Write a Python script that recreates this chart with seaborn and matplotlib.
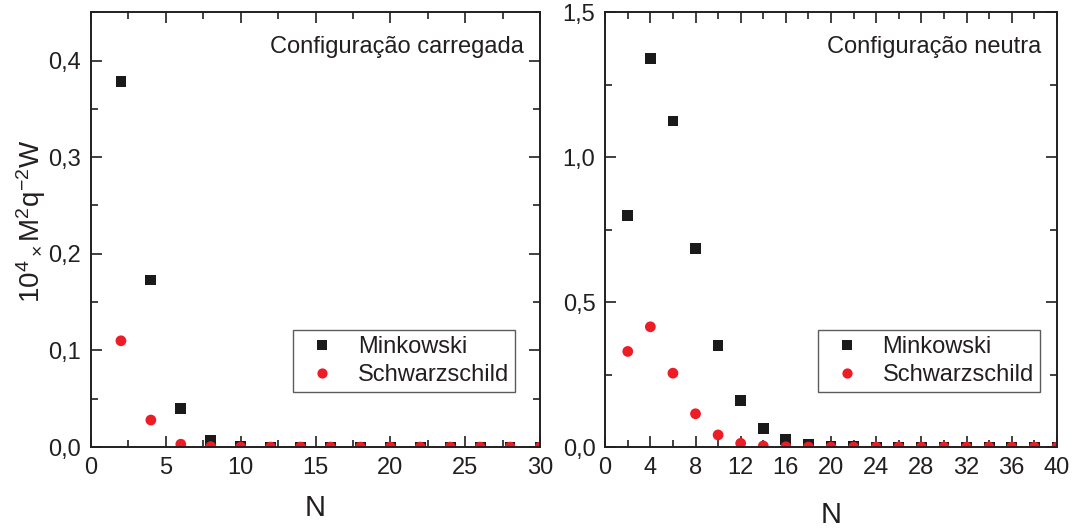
import numpy as np
import pandas as pd
import matplotlib
matplotlib.use("Agg")
import matplotlib.pyplot as plt
from matplotlib.ticker import MultipleLocator, FuncFormatter
import seaborn as sns

sns.set_style("ticks")
plt.rcParams['font.family'] = ['Liberation Sans', 'DejaVu Sans']
plt.rcParams['mathtext.fontset'] = 'custom'
plt.rcParams['mathtext.rm'] = 'Liberation Sans'
plt.rcParams['mathtext.it'] = 'Liberation Sans'

# Left panel: charged configuration
N_left = [2, 4, 6, 8, 10, 12, 14, 16, 18, 20, 22, 24, 26, 28, 30]
mink_left = [0.378, 0.173, 0.040, 0.007, 0.001, 0.0002, 0, 0, 0, 0, 0, 0, 0, 0, 0]
schw_left = [0.110, 0.028, 0.003, 0.0005, 0.0001, 0, 0, 0, 0, 0, 0, 0, 0, 0, 0]

# Right panel: neutral configuration
N_right = [2, 4, 6, 8, 10, 12, 14, 16, 18, 20, 22, 24, 26, 28, 30, 32, 34, 36, 38, 40]
mink_right = [0.80, 1.34, 1.125, 0.685, 0.35, 0.16, 0.065, 0.025, 0.010, 0.004,
              0.0015, 0.0005, 0.0002, 0, 0, 0, 0, 0, 0, 0]
schw_right = [0.33, 0.415, 0.255, 0.115, 0.042, 0.013, 0.004, 0.001, 0.0003, 0.0001,
              0, 0, 0, 0, 0, 0, 0, 0, 0, 0]

series_names = ["Minkowski", "Schwarzschild"]
titles = ["Configuração carregada", "Configuração neutra"]
ylabel = r"10$^4$$_\times$M$^2$q$^{-2}$W"
xlabel = "N"

def make_df(N, a, b):
    return pd.DataFrame({
        "N": list(N) + list(N),
        "W": list(a) + list(b),
        "series": [series_names[0]] * len(N) + [series_names[1]] * len(N),
    })

df_left = make_df(N_left, mink_left, schw_left)
df_right = make_df(N_right, mink_right, schw_right)

palette = {"Minkowski": "#1a1a1a", "Schwarzschild": "#ee1c25"}
markers = {"Minkowski": "s", "Schwarzschild": "o"}
ink = "#231f20"

fig = plt.figure(figsize=(10.73, 5.31), dpi=100)
ax1 = fig.add_axes([0.0848, 0.158, 0.4185, 0.819])
ax2 = fig.add_axes([0.564, 0.158, 0.421, 0.819])

comma = FuncFormatter(lambda v, p: f"{v:.1f}".replace(".", ","))

for ax, df, xmax, xmaj, xmin_, ymax, ymaj, ymin_, title, leg_x in [
    (ax1, df_left, 30, 5, 2.5, 0.45, 0.1, 0.05, titles[0], 0.944),
    (ax2, df_right, 40, 4, 2, 1.5, 0.5, 0.25, titles[1], 0.962),
]:
    sns.scatterplot(data=df, x="N", y="W", hue="series", style="series",
                    palette=palette, markers=markers, s=60, linewidth=0,
                    ax=ax, legend=True)
    ax.set_xlim(0, xmax)
    ax.set_ylim(0, ymax)
    ax.xaxis.set_major_locator(MultipleLocator(xmaj))
    ax.xaxis.set_minor_locator(MultipleLocator(xmin_))
    ax.yaxis.set_major_locator(MultipleLocator(ymaj))
    ax.yaxis.set_minor_locator(MultipleLocator(ymin_))
    ax.yaxis.set_major_formatter(comma)
    ax.tick_params(which="both", direction="in", top=True, right=True,
                   labelsize=17, colors=ink, width=1.2)
    ax.tick_params(which="major", length=8, pad=7)
    ax.tick_params(which="minor", length=5)
    for sp in ax.spines.values():
        sp.set_linewidth(1.4)
        sp.set_color(ink)
    ax.set_xlabel(xlabel, fontsize=21, labelpad=11, color=ink)
    ax.set_ylabel("")
    ax.text(0.965, 0.92, title, transform=ax.transAxes, ha="right", va="center",
            fontsize=17, color=ink)
    leg = ax.legend(loc="lower right", bbox_to_anchor=(leg_x, 0.127), fontsize=17,
                    frameon=True, fancybox=False, edgecolor="#333333",
                    borderpad=0.25, handletextpad=0.5, labelspacing=0.25,
                    markerscale=0.95, borderaxespad=0)
    leg.get_frame().set_linewidth(1.0)
    for t in leg.get_texts():
        t.set_color(ink)

ax1.set_ylabel(ylabel, fontsize=20, labelpad=8, color=ink)
ax1.yaxis.set_label_coords(-0.095, 0.52)
ax2.set_xlabel(xlabel, fontsize=21, labelpad=16, color=ink)

fig.savefig("out.png", dpi=100)
